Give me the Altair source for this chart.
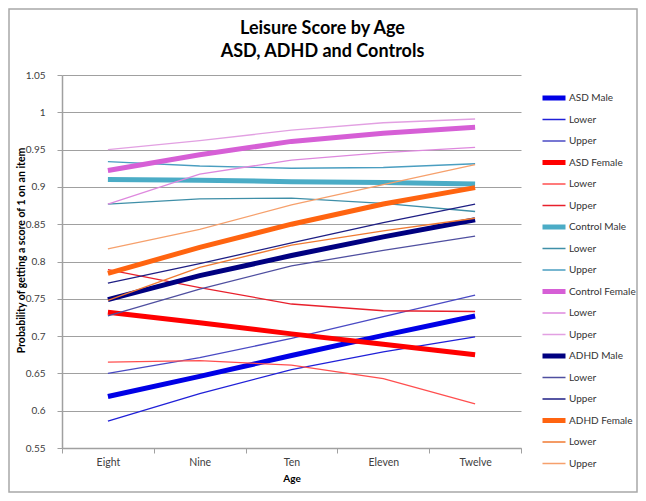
import altair as alt
import pandas as pd

ages = ["Eight", "Nine", "Ten", "Eleven", "Twelve"]

asd_male = [0.619, 0.646, 0.674, 0.701, 0.727]
asd_male_lower = [0.586, 0.623, 0.655, 0.679, 0.699]
asd_male_upper = [0.650, 0.671, 0.697, 0.726, 0.755]
asd_female = [0.732, 0.718, 0.703, 0.689, 0.675]
asd_female_lower = [0.665, 0.667, 0.661, 0.643, 0.609]
asd_female_upper = [0.789, 0.765, 0.743, 0.734, 0.733]
control_male = [0.910, 0.909, 0.907, 0.906, 0.904]
control_male_lower = [0.877, 0.884, 0.885, 0.878, 0.867]
control_male_upper = [0.934, 0.928, 0.925, 0.926, 0.931]
control_female = [0.922, 0.943, 0.961, 0.972, 0.980]
control_female_lower = [0.877, 0.917, 0.936, 0.946, 0.953]
control_female_upper = [0.950, 0.962, 0.976, 0.986, 0.991]
adhd_male = [0.749, 0.781, 0.808, 0.833, 0.856]
adhd_male_lower = [0.727, 0.763, 0.794, 0.815, 0.834]
adhd_male_upper = [0.771, 0.797, 0.825, 0.852, 0.877]
adhd_female = [0.784, 0.819, 0.850, 0.877, 0.899]
adhd_female_lower = [0.748, 0.792, 0.822, 0.841, 0.858]
adhd_female_upper = [0.817, 0.843, 0.876, 0.903, 0.930]

title_lines = ["Leisure Score by Age", "ASD, ADHD and Controls"]

series = [
    ("ASD Male", asd_male, "#0000e6", 5),
    ("ASD Male Lower", asd_male_lower, "#2020d8", 1.3),
    ("ASD Male Upper", asd_male_upper, "#4a4ac4", 1.3),
    ("ASD Female", asd_female, "#ff0000", 5),
    ("ASD Female Lower", asd_female_lower, "#ff4f4f", 1.3),
    ("ASD Female Upper", asd_female_upper, "#e8202c", 1.3),
    ("Control Male", control_male, "#4bacc6", 5),
    ("Control Male Lower", control_male_lower, "#3f8fa8", 1.3),
    ("Control Male Upper", control_male_upper, "#4a9ec0", 1.3),
    ("Control Female", control_female, "#d65fd6", 5),
    ("Control Female Lower", control_female_lower, "#de88de", 1.3),
    ("Control Female Upper", control_female_upper, "#e2a0e2", 1.3),
    ("ADHD Male", adhd_male, "#000080", 5),
    ("ADHD Male Lower", adhd_male_lower, "#4f4fa0", 1.3),
    ("ADHD Male Upper", adhd_male_upper, "#1e1e84", 1.3),
    ("ADHD Female", adhd_female, "#ff6410", 5),
    ("ADHD Female Lower", adhd_female_lower, "#f07a32", 1.3),
    ("ADHD Female Upper", adhd_female_upper, "#f6a06c", 1.3),
]

names = [s[0] for s in series]
colors = [s[2] for s in series]
widths = [s[3] for s in series]

rows = []
for name, vals, _, _ in series:
    for a, v in zip(ages, vals):
        rows.append({"series": name, "age": a, "value": v})
df = pd.DataFrame(rows)

W, H = 459, 373
FONT = "Lato"

label_expr = ("indexof(datum.label, 'Lower') >= 0 ? 'Lower' : "
              "(indexof(datum.label, 'Upper') >= 0 ? 'Upper' : datum.label)")

lines = alt.Chart(df).mark_line().encode(
    x=alt.X("age:N", sort=ages, bandPosition=0.5,
            scale=alt.Scale(type="band", domain=ages, paddingInner=0, paddingOuter=0),
            axis=alt.Axis(title="Age", labelAngle=0, tickBand="extent", grid=False,
                          tickSize=5, labelPadding=4, titlePadding=6)),
    y=alt.Y("value:Q",
            scale=alt.Scale(domain=[0.55, 1.05], nice=False, zero=False),
            axis=alt.Axis(title="Probability of getting a score of 1 on an item",
                          values=[0.55, 0.6, 0.65, 0.7, 0.75, 0.8, 0.85, 0.9, 0.95, 1.0, 1.05],
                          format="~g", grid=True, tickSize=5, labelPadding=12,
                          labelFontSize=10,
                          titleX=-41, titleY=175, titleBaseline="middle",
                          titleAlign="center", titleAngle=270, titleFontSize=10.5)),
    color=alt.Color("series:N", scale=alt.Scale(domain=names, range=colors),
                    legend=alt.Legend(title=None, labelExpr=label_expr)),
    strokeWidth=alt.StrokeWidth("series:N",
                                scale=alt.Scale(type="ordinal", domain=names, range=widths),
                                legend=alt.Legend(title=None, labelExpr=label_expr)),
)

frame = alt.Chart(pd.DataFrame({"a": [0]})).mark_rect(
    filled=False, stroke="#a8a8a8", strokeWidth=1.5
).encode(
    x=alt.value(-53), x2=alt.value(W + 116), y=alt.value(-66), y2=alt.value(H + 44)
)

title = alt.Chart(pd.DataFrame({"a": [0]})).mark_text(
    text=title_lines, font=FONT, fontSize=18, fontWeight="bold", lineHeight=22.5,
    align="center", baseline="alphabetic", color="#000000"
).encode(x=alt.value(W / 2 + 31), y=alt.value(-41))

chart = alt.layer(frame, lines, title).properties(
    width=W, height=H,
    autosize=alt.AutoSizeParams(type="none"),
    padding={"left": 54, "top": 67, "right": 117, "bottom": 45},
).configure_view(stroke=None).configure_axis(
    labelFont=FONT, titleFont=FONT, labelFontSize=10.5, titleFontSize=10,
    labelColor="#404040", titleColor="#000000", titleFontWeight="bold",
    domainColor="#a0a0a0", tickColor="#a0a0a0", gridColor="#a0a0a0",
    domainWidth=1.5, gridWidth=1,
).configure_legend(
    orient="none", legendX=478, legendY=17, symbolType="stroke", symbolSize=529,
    labelFont=FONT, labelFontSize=10, labelColor="#333333", labelOffset=1,
    rowPadding=9.5, clipHeight=12, padding=0, columns=1,
)

chart.save("out.html", embed_options={"renderer": "svg", "actions": False})
